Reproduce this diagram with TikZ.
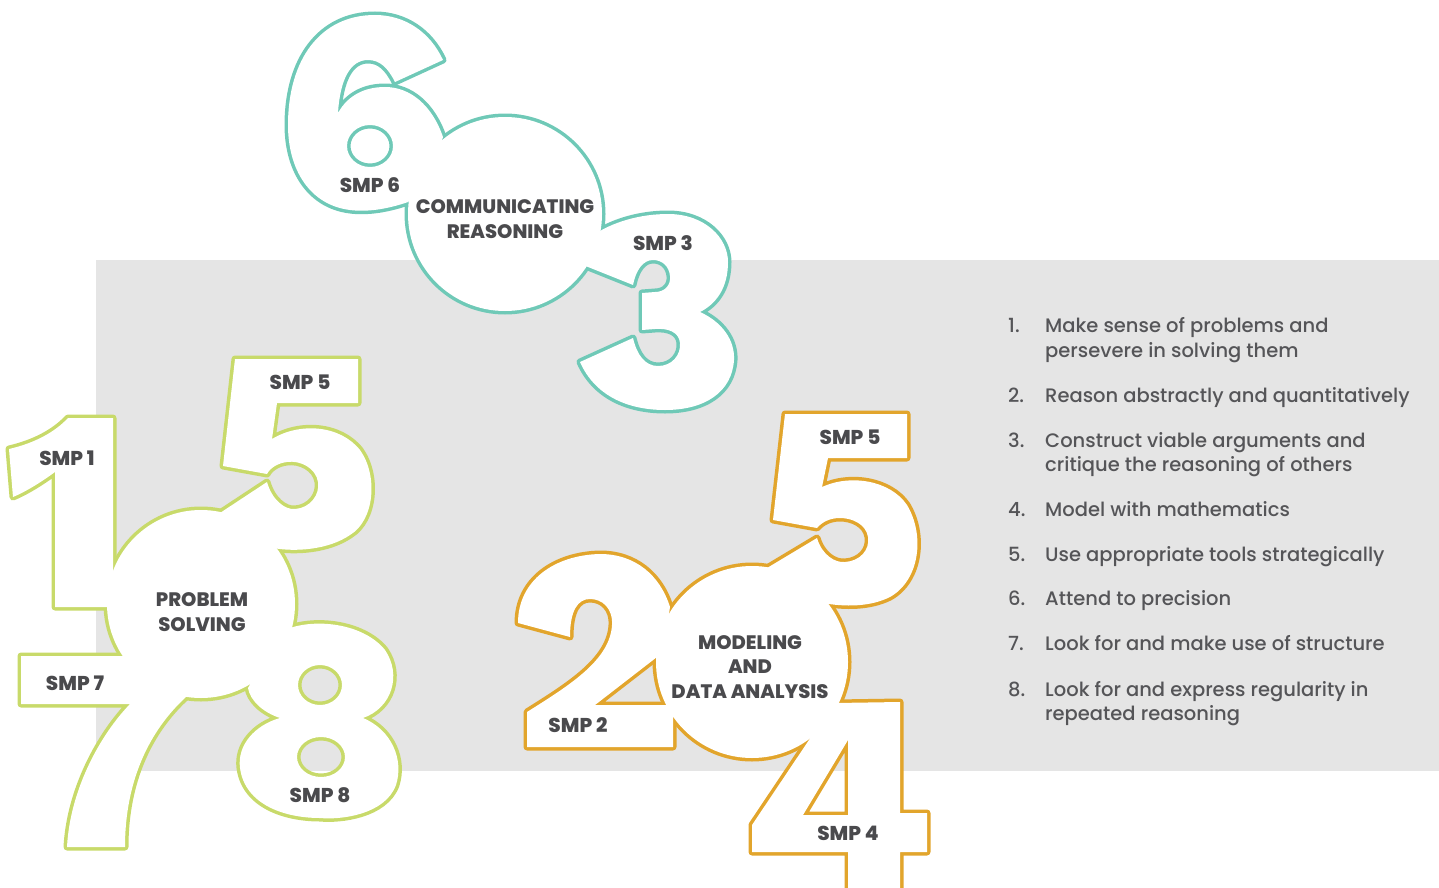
\documentclass[tikz,border=0pt]{standalone}
\usepackage{fontspec}
\setmainfont{Poppins}
\newfontfamily\heavyfont{Poppins ExtraBold}
\newfontfamily\mediumfont{Poppins Medium}
\usetikzlibrary{positioning}
\definecolor{pgreen}{HTML}{C8DA6A}
\definecolor{pteal}{HTML}{6FC9B7}
\definecolor{porange}{HTML}{E2A52C}
\definecolor{ptext}{HTML}{4A4A4D}
\definecolor{plist}{HTML}{555558}
\definecolor{pback}{HTML}{E5E5E5}
\tikzset{
  rim/.style={line width=7pt, line join=round},
  blank/.style={fill=white, even odd rule},
  smp/.style={text=ptext, font=\heavyfont\fontsize{20}{20}\selectfont, inner sep=0pt},
  theme/.style={smp, align=center, font=\heavyfont\fontsize{19.5}{24.5}\selectfont},
  item/.style={text=plist, font=\mediumfont\fontsize{19.5}{19.5}\selectfont, anchor=base west, inner sep=0pt}
}
\newcommand{\digOne}{(9,449) .. controls (35,443) and (55,432) .. (68,418) -- (113,418) -- (113,607) -- (55,607) -- (55,472) .. controls (40,483) and (25,492) .. (13,497) -- cycle}
\newcommand{\digFiveG}{(235,359) -- (358,359) -- (358,403) -- (277,403) -- (272,439) .. controls (300,422) and (340,425) .. (360,450) .. controls (378,475) and (375,520) .. (350,535) .. controls (328,550) and (295,552) .. (273,548) -- (240,540) -- (220,513) -- (267,482) .. controls (272,500) and (285,510) .. (295,509) .. controls (310,508) and (320,495) .. (318,482) .. controls (316,468) and (300,460) .. (287,462) .. controls (278,463) and (270,468) .. (267,474) -- (223,466) -- cycle}
\newcommand{\digSeven}{(21,656) -- (130,656) -- (190,682) -- (186,697) .. controls (150,730) and (125,780) .. (125,847) -- (67,847) .. controls (70,790) and (100,735) .. (130,704) -- (21,704) -- cycle}
\newcommand{\digEight}{(290,628) .. controls (320,618) and (365,625) .. (385,650) .. controls (402,675) and (392,708) .. (363,718) .. controls (392,730) and (404,760) .. (396,785) .. controls (385,815) and (340,820) .. (320,818) .. controls (285,818) and (245,805) .. (240,768) .. controls (237,745) and (255,725) .. (280,718) .. controls (262,712) and (250,700) .. (248,688) -- (270,650) -- cycle (320,685) ellipse [x radius=22pt, y radius=20pt] (321,757) ellipse [x radius=24pt, y radius=20pt]}
\newcommand{\ringGreen}{(201,604) circle [radius=94pt]}
\newcommand{\digSix}{(408,202) .. controls (385,210) and (365,212) .. (350,210) .. controls (310,205) and (288,170) .. (288,125) .. controls (288,60) and (320,15) .. (375,15) .. controls (405,15) and (430,32) .. (443,60) -- (395,82) .. controls (388,68) and (380,60) .. (368,60) .. controls (350,60) and (340,80) .. (338,113) .. controls (348,95) and (365,87) .. (385,87) .. controls (410,87) and (432,105) .. (443,137) -- (430,180) -- cycle (370,146) ellipse [x radius=23pt, y radius=21pt]}
\newcommand{\digThree}{(575,250) -- (592,236) .. controls (612,222) and (640,214) .. (668,214) .. controls (705,214) and (728,238) .. (728,262) .. controls (728,288) and (716,304) .. (700,312) .. controls (722,322) and (735,340) .. (734,360) .. controls (732,392) and (705,410) .. (665,410) .. controls (628,410) and (595,396) .. (580,362) -- (633,338) .. controls (637,355) and (645,366) .. (658,366) .. controls (672,366) and (681,355) .. (680,343) .. controls (679,332) and (668,328) .. (655,329) -- (642,330) -- (642,293) -- (655,292) .. controls (665,292) and (671,285) .. (670,276) .. controls (669,266) and (662,260) .. (653,260) .. controls (643,260) and (636,270) .. (633,285) -- (583,265) -- cycle}
\newcommand{\ringTeal}{(505,214) circle [radius=97pt]}
\newcommand{\digTwo}{(518,623) .. controls (518,580) and (555,555) .. (600,554) .. controls (635,554) and (660,575) .. (670,607) -- (665,640) -- (657,657) -- (595,705) -- (680,705) -- (673,718) -- (673,747) -- (527,747) -- (527,712) .. controls (570,685) and (610,660) .. (612,625) .. controls (613,608) and (602,599) .. (590,599) .. controls (578,599) and (570,610) .. (570,637) -- cycle}
\newcommand{\digFiveO}{(785,414) -- (907,414) -- (907,458) -- (828,458) -- (822,487) .. controls (850,474) and (890,480) .. (907,505) .. controls (925,535) and (920,580) .. (890,597) .. controls (870,607) and (845,607) .. (823,603) -- (790,590) -- (767,568) -- (817,538) .. controls (822,555) and (835,563) .. (845,562) .. controls (860,561) and (870,550) .. (868,537) .. controls (866,524) and (852,518) .. (840,518) .. controls (830,518) and (822,522) .. (817,528) -- (773,520) -- cycle}
\newcommand{\digFour}{(835,703) -- (900,702) -- (900,813) -- (927,813) -- (927,852) -- (900,852) -- (900,895) -- (848,895) -- (848,852) -- (752,852) -- (752,825) -- (817,728) -- (800,700) -- cycle (803,815) -- (848,815) -- (848,740) -- cycle}
\newcommand{\ringOrange}{(752,662) circle [radius=96pt]}

\begin{document}
\begin{tikzpicture}[x=1pt,y=-1pt]
            \clip (0,0) rectangle (1439,888);
            \fill[pback, draw=black!10] (96,260) rectangle (1440,770);

            \foreach \s in {\digOne,\digFiveG,\digSeven,\digEight,\ringGreen} \draw[rim, pgreen] \s;
            \foreach \s in {\digOne,\digFiveG,\digSeven,\digEight,\ringGreen} \fill[blank] \s;

            \foreach \s in {\digSix,\digThree,\ringTeal} \draw[rim, pteal] \s;
            \foreach \s in {\digSix,\digThree,\ringTeal} \fill[blank] \s;

            \foreach \s in {\digTwo,\digFiveO,\digFour,\ringOrange} \draw[rim, porange] \s;
            \foreach \s in {\digTwo,\digFiveO,\digFour,\ringOrange} \fill[blank] \s;

            \node[smp] (smp1) at (67,458) {SMP 1};
            \node[smp] (smp5g) at (300,382) {SMP 5};
            \node[smp] (smp7) at (75,683) {SMP 7};
            \node[smp] (smp8) at (320,795) {SMP 8};
            \node[theme] (problem) at (202,612) {PROBLEM\\SOLVING};

            \node[smp] (smp6) at (370,185) {SMP 6};
            \node[smp] (smp3) at (663,243) {SMP 3};
            \node[theme] (communicating) at (505,219) {COMMUNICATING\\REASONING};

            \node[smp] (smp5o) at (850,437) {SMP 5};
            \node[smp] (smp2) at (578,725) {SMP 2};
            \node[smp] (smp4) at (848,833) {SMP 4};
            \node[theme] (modeling) at (750,667) {MODELING\\AND\\DATA ANALYSIS};

            \node[item] (n1) at (1008,332) {1.};
            \node[item] (t1) at (1045,332) {Make sense of problems and};
            \node[item] (t1b) at (1045,357) {persevere in solving them};
            \node[item] (n2) at (1008,402) {2.};
            \node[item] (t2) at (1045,402) {Reason abstractly and quantitatively};
            \node[item] (n3) at (1008,447) {3.};
            \node[item] (t3) at (1045,447) {Construct viable arguments and};
            \node[item] (t3b) at (1045,471) {critique the reasoning of others};
            \node[item] (n4) at (1008,516) {4.};
            \node[item] (t4) at (1045,516) {Model with mathematics};
            \node[item] (n5) at (1008,561) {5.};
            \node[item] (t5) at (1045,561) {Use appropriate tools strategically};
            \node[item] (n6) at (1008,605) {6.};
            \node[item] (t6) at (1045,605) {Attend to precision};
            \node[item] (n7) at (1008,650) {7.};
            \node[item] (t7) at (1045,650) {Look for and make use of structure};
            \node[item] (n8) at (1008,696) {8.};
            \node[item] (t8) at (1045,696) {Look for and express regularity in};
            \node[item] (t8b) at (1045,720) {repeated reasoning};
        \end{tikzpicture}
\end{document}
